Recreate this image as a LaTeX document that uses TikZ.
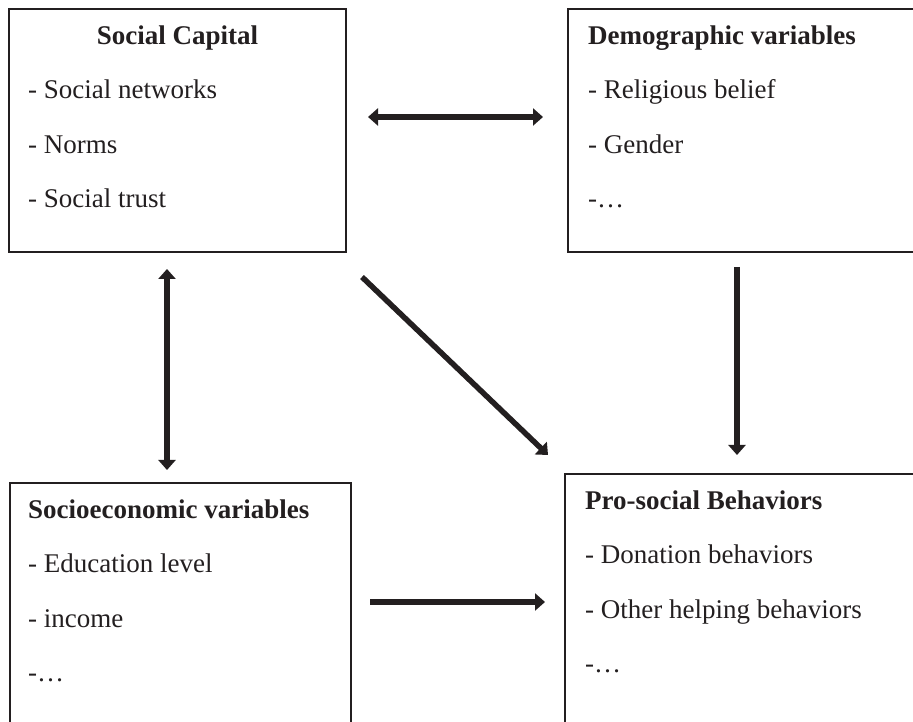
\documentclass[tikz,border=0pt]{standalone}
\usepackage{fontspec}
\setmainfont{Liberation Serif}
\usetikzlibrary{arrows.meta}
\definecolor{ink}{HTML}{231F20}

\begin{document}
\begin{tikzpicture}[x=1pt, y=1pt, >={Triangle[width=17pt, length=10pt]},
  box/.style={draw=ink, line width=2pt, inner sep=0pt, anchor=north west},
  title/.style={font=\fontsize{27}{32}\selectfont\bfseries, text=ink, inner sep=0pt},
  item/.style={font=\fontsize{27}{32}\selectfont, text=ink, inner sep=0pt, anchor=base west},
  link/.style={draw=ink, line width=5.5pt}
 ]
\useasboundingbox (0,0) rectangle (913,722);
\clip (0,0) rectangle (913,722);

% boxes
\node[box, minimum width=337pt, minimum height=243pt] (cap) at (8,714) {};
\node[box, minimum width=373pt, minimum height=243pt] (demo) at (567,714) {};
\node[box, minimum width=341pt, minimum height=260pt] (socio) at (9,240) {};
\node[box, minimum width=376pt, minimum height=269pt] (pro) at (564,249) {};

% headings
\node[title, anchor=base] (cap-title) at ([yshift=-37pt]cap.north) {Social Capital};
\node[title, anchor=base west] (demo-title) at ([shift={(21pt,-37pt)}]demo.north west) {Demographic variables};
\node[title, anchor=base west] (socio-title) at ([shift={(19pt,-37pt)}]socio.north west) {Socioeconomic variables};
\node[title, anchor=base west] (pro-title) at ([shift={(21pt,-37pt)}]pro.north west) {Pro-social Behaviors};

% items
\foreach \txt [count=\i] in {- Social networks, - Norms, - Social trust}
    \node[item] (cap-\i) at ([shift={(20pt,-36.5pt-\i*54.5pt)}]cap.north west) {\txt};
\foreach \txt [count=\i] in {- Religious belief, - Gender, -…}
    \node[item] (demo-\i) at ([shift={(21pt,-36.5pt-\i*54.5pt)}]demo.north west) {\txt};
\foreach \txt [count=\i] in {- Education level, - income, -…}
    \node[item] (socio-\i) at ([shift={(19pt,-36.5pt-\i*54.5pt)}]socio.north west) {\txt};
\foreach \txt [count=\i] in {- Donation behaviors, - Other helping behaviors, -…}
    \node[item] (pro-\i) at ([shift={(21pt,-36.5pt-\i*54.5pt)}]pro.north west) {\txt};

% links
\draw[link, <->, shorten <=21pt, shorten >=24pt] ([yshift=13.5pt]cap.east) -- ([yshift=13.5pt]demo.west);
\draw[link, <->, shorten <=16pt, shorten >=12pt] ([xshift=-10.5pt]cap.south) -- ([xshift=-13.5pt]socio.north);
\draw[link, ->] ([shift={(15pt,-24pt)}]cap.south east) -- ([shift={(-16pt,18pt)}]pro.north west);
\draw[link, ->] ([shift={(-17.5pt,-14pt)}]demo.south) -- ([shift={(-16pt,18pt)}]pro.north);
\draw[link, ->] ([shift={(18pt,11pt)}]socio.east) -- ([shift={(-19pt,6.5pt)}]pro.west);

\end{tikzpicture}
\end{document}
